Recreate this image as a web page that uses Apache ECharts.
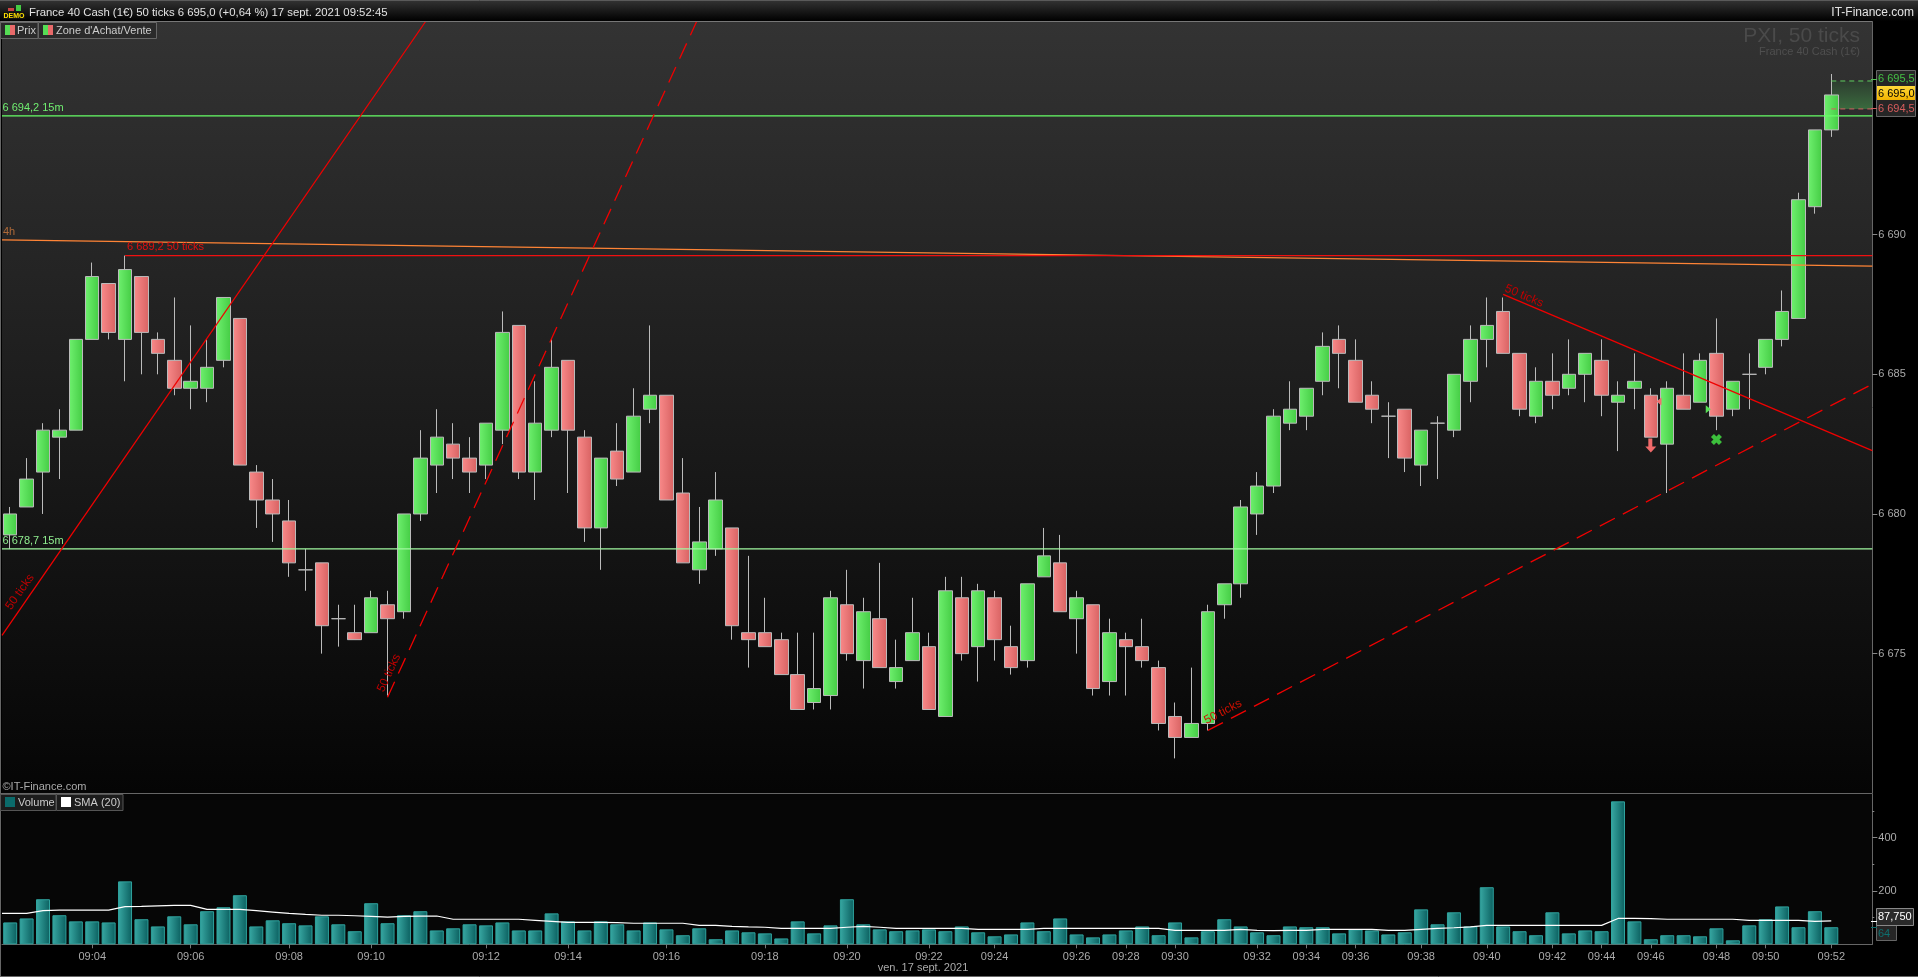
<!DOCTYPE html>
<html>
<head>
<meta charset="utf-8">
<style>html,body{margin:0;padding:0;background:#000;overflow:hidden}#c{width:1918px;height:977px}</style>
<script src="https://cdn.jsdelivr.net/npm/echarts@6/dist/echarts.min.js"></script>
</head>
<body>
<div id="c"></div>
<script>
const opens=[6679.25,6680.25,6681.5,6682.75,6683,6686.25,6688.25,6686.25,6688.5,6686.25,6685.5,6684.5,6684.5,6685.5,6687,6681.5,6680.5,6679.75,6678,6678.25,6676.25,6675.75,6675.75,6676.75,6676.5,6680,6681.75,6682.5,6682,6681.75,6683,6686.75,6681.5,6683,6685.5,6682.75,6679.5,6682.25,6681.5,6683.75,
6684.25,6680.75,6678,6678.75,6679.5,6675.75,6675.75,6675.5,6674.25,6673.25,6673.5,6676.75,6674.75,6676.25,6674,6674.75,6675.25,6672.75,6677,6675.25,6677,6675.25,6674.75,6677.75,6678.25,6676.25,6676.75,6674,6675.5,6675.25,6674.5,6672.75,6672,6672.5,6676.75,6677.5,6680,6681,6683.25,6683.5,6684.75,6686.25,6685.5,6684.25,6683.5,6683.75,6681.75,6683.25,6683,6684.75,6686.25,6687.25,6685.75,6683.5,6684.75,6684.5,6685,6685.5,6684,6684.5,6684.25,6682.5,6684.25,6684,6685.75,6683.75,6685,6685.25,6686.25,6687,6691,6693.75];
const closes=[6680,6681.25,6683,6683,6686.25,6688.5,6686.5,6688.75,6686.5,6685.75,6684.5,6684.75,6685.25,6687.75,6681.75,6680.5,6680,6678.25,6678,6676,6676.25,6675.5,6677,6676.25,6680,6682,6682.75,6682,6681.5,6683.25,6686.5,6681.5,6683.25,6685.25,6683,6679.5,6682,6681.25,6683.5,6684.25,
6680.5,6678.25,6679,6680.5,6676,6675.5,6675.25,6674.25,6673,6673.75,6677,6675,6676.5,6674.5,6674.5,6675.75,6673,6677.25,6675,6677.25,6675.5,6674.5,6677.5,6678.5,6676.5,6677,6673.75,6675.75,6675.25,6674.75,6672.5,6672,6672.5,6676.5,6677.5,6680.25,6681,6683.5,6683.75,6684.5,6686,6685.75,6684,6683.75,6683.5,6682,6683,6683.25,6685,6686.25,6686.75,6685.75,6683.75,6684.75,6684.25,6685,6685.75,6684.25,6684.25,6684.75,6682.75,6684.5,6683.75,6685.5,6683.5,6684.75,6685,6686.25,6687.25,6691.25,6693.75,6695];
const lows=[6678.75,6680.25,6680,6681.25,6683,6686.25,6686.25,6684.75,6685,6685,6684.25,6683.75,6684,6685.25,6681.75,6679.5,6679,6677.75,6677.25,6675,6675.25,6675.5,6675.75,6673.5,6676.25,6679.75,6680.75,6681.25,6680.75,6681.25,6682.5,6681.25,6680.5,6682.75,6680.75,6679,6678,6681,6681.5,6683.25,
6680.5,6678.25,6677.5,6678.5,6675.5,6674.5,6675.25,6674.25,6673,6673,6673,6674.75,6673.75,6674.5,6673.75,6674.75,6673,6672.75,6674.75,6674,6674.75,6674.25,6674.5,6677.75,6676.5,6675,6673.5,6673.5,6673.5,6674.5,6672.25,6671.25,6672,6672.25,6676.25,6677,6679.25,6680.75,6683,6683,6684.25,6684.5,6684,6683.25,6682,6681.5,6681,6681.25,6682.75,6684,6685.25,6685.75,6683.5,6683.25,6683.75,6684.25,6684,6683.5,6682.25,6683.75,6682.75,6680.75,6683.75,6684,6683,6683.5,6683.75,6685,6686,6687,6690.75,6693.5];
const highs=[6680.25,6682,6683.25,6683.75,6686.25,6689,6688.25,6689.25,6688.5,6686.5,6687.75,6686.75,6686.25,6687.75,6687,6681.75,6681.25,6680.5,6678.75,6678.25,6676.75,6676.75,6677.25,6677.25,6680,6683,6683.75,6683.25,6682.75,6683.25,6687.25,6686.75,6684.75,6686.25,6685.5,6683,6682,6683.25,6684.5,6686.75,
6684.25,6682,6680.25,6681.5,6679.5,6678.5,6677,6675.75,6675.75,6675.75,6677.25,6678,6677,6678.25,6675.5,6677,6675.75,6677.75,6677.75,6677.5,6677.25,6676,6677.5,6679.5,6679.25,6677.25,6676.75,6676.25,6675.75,6676.25,6674.75,6673.25,6674.5,6676.75,6677.5,6680.5,6681.5,6683.75,6684.75,6684.5,6686.5,6686.75,6686.25,6684.75,6684,6683.75,6683,6683.5,6685,6686.75,6687.75,6687.75,6685.75,6685.25,6685.75,6686.25,6685.75,6686.25,6684.75,6685.75,6684.5,6684.75,6685.75,6685.75,6687,6684.75,6685.75,6686.25,6688,6691.5,6693.75,6695.75];
const volumes=[82,97,169,109,86,86,82,236,94,67,105,75,124,139,184,67,90,79,71,105,75,49,154,79,109,124,52,60,75,71,82,52,52,116,86,52,86,75,52,82,
56,34,60,19,52,45,41,22,86,41,71,169,75,56,49,52,56,49,67,45,30,37,82,49,97,37,26,37,52,67,34,82,26,49,94,67,45,34,67,64,64,41,56,52,37,45,131,75,120,67,214,67,49,34,120,41,52,49,536,86,19,34,34,30,60,15,71,94,142,64,124,64];
const sma20=[116,116,126,128,128,128,128,141,142,144,146,146,131,131,131,126,121,116,112,109,109,107,105,102,105,106,106,94,94,94,94,94,90,86,82,82,82,81,79,79,
79,79,71,71,67,65,64,60,60,60,60,64,67,64,60,60,60,60,60,56,56,56,56,60,60,60,60,60,60,60,60,52,52,52,52,56,52,51,52,52,56,56,56,56,52,52,56,60,62,65,71,71,71,71,71,71,71,71,97,97,96,94,94,94,94,94,90,90,90,90,86,87.75];
const smaStart=116;
const tickCandle=[6,12,18,23,30,35,41,47,52,57,61,66,69,72,77,80,83,87,91,95,98,101,105,108,112];
const tickLabels=['09:04','09:06','09:08','09:10','09:12','09:14','09:16','09:18','09:20','09:22','09:24','09:26','09:28','09:30','09:32','09:34','09:36','09:38','09:40','09:42','09:44','09:46','09:48','09:50','09:52'];
const priceTicks=[6675,6680,6685,6690];
const volumeLabels=[200,400];
const level15mHigh=6694.25, level15mLow=6678.75, level50t=6689.25, ask=6695.5, bid=6694.5;
const line4h=[[0,6689.81],[114,6688.87]];
const trendA=[[0,6675.65],[25.82,6697.63]];
const trendB=[[23.5,6673.44],[42.34,6697.63]];
const trendC=[[73.5,6672.25],[114,6684.65]];
const trendD=[[91.5,6687.86],[114,6682.27]];
const sellArrow=[[100.5,6682.45]], buyCross=[[104.5,6682.67]], leftTri=[[101,6684.03]], rightTri=[[104,6683.75]];

const categories=new Array(114).fill('');
tickCandle.forEach((c,i)=>{categories[c-1]=tickLabels[i];});
const candles=opens.map((o,i)=>[o,closes[i],lows[i],highs[i]]);
const smaLine=[[0,smaStart]].concat(sma20.map((v,i)=>[i+0.5,v]));
const FONT='"Liberation Sans", Arial, sans-serif';
const grad=(a,b)=>({type:'linear',x:0,y:0,x2:1,y2:0,colorStops:[{offset:0,color:a},{offset:1,color:b}]});
const vgrad=(a,b)=>({type:'linear',x:0,y:0,x2:0,y2:1,colorStops:[{offset:0,color:a},{offset:1,color:b}]});
const fmtPrice=v=>String(v).replace(/^(\d)(\d{3})/,'$1 $2');
const tline=(name,data,color,dash,width)=>({name,type:'line',xAxisIndex:2,yAxisIndex:0,data,showSymbol:false,silent:true,z:6,clip:true,
  lineStyle:{color,width:width||1.3,type:dash||'solid',cap:'butt'}});
const marker=(data,symbol,size,color)=>({type:'scatter',xAxisIndex:2,yAxisIndex:0,data,symbol,symbolSize:size,silent:true,z:7,itemStyle:{color,opacity:1}});

const txt=(x,y,text,o)=>Object.assign({type:'text',x,y,silent:true,z:100,style:Object.assign({text,font:'11px '+FONT,fill:'#ccc',align:'left',verticalAlign:'middle'},o||{})});
const rect=(x,y,w,h,fill,stroke)=>({type:'rect',silent:true,z:99,shape:{x,y,width:w,height:h},style:{fill,stroke:stroke||null,lineWidth:1}});
const seg=(x1,y1,x2,y2,stroke)=>({type:'line',silent:true,z:99,shape:{x1,y1,x2,y2},style:{stroke,lineWidth:1}});
const rot=(x,y,text,deg,fill)=>({type:'text',x,y,rotation:deg*Math.PI/180,silent:true,z:50,style:{text,font:'12px '+FONT,fill,align:'center',verticalAlign:'middle'}});

const graphics=[
  rect(0,0,1918,21,vgrad('#343434','#000000')),
  seg(0,0.5,1918,0.5,'#5a5a5a'),
  seg(0,21.5,1872,21.5,'#777'),
  seg(0,793.5,1872,793.5,'#666'),
  seg(0.5,21,0.5,977,'#666'),
  seg(0,976.5,1918,976.5,'#666'),
  // logo
  rect(3,12,22,7,'#111'),
  rect(16,5,5,6,'#44cc44'),
  rect(8,8,6,3,'#cc4444'),
  txt(3.5,16,'DEMO',{font:'bold 7px '+FONT,fill:'#ffe000'}),
  txt(29,13,'France 40 Cash (1€) 50 ticks 6 695,0 (+0,64 %) 17 sept. 2021 09:52:45',{fill:'#e2e2e2',font:'11.35px '+FONT}),
  txt(1914,13,'IT-Finance.com',{align:'right',fill:'#e2e2e2',font:'12px '+FONT}),
  // legends
  rect(0.5,22.5,37.5,16,'#2a2a2a','#666'),
  rect(38.5,22.5,118,16,'#2a2a2a','#666'),
  rect(5,25,5,10,'#55dd55'), rect(10,25,5,10,'#e86a6a'),
  rect(43,25,5,10,'#55dd55'), rect(48,25,5,10,'#e86a6a'),
  txt(17,31,'Prix'), txt(56,31,"Zone d'Achat/Vente"),
  rect(0.5,794.5,55.5,16,'#1c1c1c','#555'),
  rect(56.5,794.5,66.5,16,'#1c1c1c','#555'),
  rect(5,797,10,10,'#0b6a6a'), rect(61,797,10,10,'#ffffff'),
  txt(18,803,'Volume'), txt(74,803,'SMA (20)'),
  // watermark
  txt(1860,36,'PXI, 50 ticks',{align:'right',font:'21px '+FONT,fill:'#4a4a4a'}),
  txt(1860,51.5,'France 40 Cash (1€)',{align:'right',font:'11px '+FONT,fill:'#4f4f4f'}),
  // level captions
  txt(2.5,108,'6 694,2 15m',{fill:'#70ee70'}),
  txt(2.5,541,'6 678,7 15m',{fill:'#90ee90'}),
  txt(3,232,'4h',{fill:'#b06a38'}),
  txt(127,247,'6 689,2 50 ticks',{fill:'#e01010'}),
  txt(2.5,787,'©IT-Finance.com',{fill:'#aaa'}),
  rot(20,592,'50 ticks',55,'#c00000'),
  rot(389,673,'50 ticks',65,'#c00000'),
  rot(1223,712,'50 ticks',27.6,'#d01000'),
  rot(1524,296,'50 ticks',-23,'#c00000'),
  // last price boxes
  rect(1876.5,70.5,39,46,'#262626','#666'),
  seg(1871,79.5,1877,79.5,'#55c055'),
  seg(1871,108.5,1877,108.5,'#d06060'),
  rect(1877,86,38,14,vgrad('#ffd83a','#f2b400')),
  txt(1878,79,'6 695,5',{fill:'#44c044'}),
  txt(1878,93.5,'6 695,0',{fill:'#000'}),
  txt(1878,108.5,'6 694,5',{fill:'#d85c5c'}),
  // volume boxes
  rect(1876.5,925.5,20,15,'#262626','#666'),
  rect(1876.5,908.5,37,17,'#2a2a2a','#888'),
  seg(1871,921.5,1877,921.5,'#fff'),
  seg(1871,927.5,1877,927.5,'#0b6a6a'),
  txt(1878,917,'87,750',{fill:'#fff'}),
  txt(1878,933.5,'64',{fill:'#0e6f6f'}),
  txt(923,968,'ven. 17 sept. 2021',{align:'center',fill:'#aaa'})
];

const chart=echarts.init(document.getElementById('c'),null,{renderer:'canvas'});
chart.setOption({
  animation:false,
  backgroundColor:'#000',
  graphic:{elements:graphics},
  grid:[
    {left:2,right:45.7,top:21.5,height:771.8,show:true,borderWidth:0,backgroundColor:vgrad('#333333','#050505')},
    {left:2,right:45.7,top:794,height:150.3,show:true,borderWidth:0,backgroundColor:'#060606'}
  ],
  xAxis:[
    {type:'category',gridIndex:0,data:categories,show:false,boundaryGap:true},
    {type:'category',gridIndex:1,data:categories,boundaryGap:true,
      axisLine:{show:true,lineStyle:{color:'#666'}},
      axisTick:{show:true,alignWithLabel:true,length:4,lineStyle:{color:'#777'},interval:(i,v)=>v!==''},
      axisLabel:{interval:0,hideOverlap:false,margin:7,color:'#aaa',fontFamily:FONT,fontSize:11},
      splitLine:{show:false}},
    {type:'value',gridIndex:0,min:0,max:114,show:false,splitLine:{show:false}},
    {type:'value',gridIndex:1,min:0,max:114,show:false,splitLine:{show:false}}
  ],
  yAxis:[
    {type:'value',gridIndex:0,position:'right',min:6670,max:6697.63,interval:5,scale:true,
      splitLine:{show:false},
      axisLine:{show:true,onZero:false,lineStyle:{color:'#666'}},
      axisTick:{show:true,length:5,customValues:priceTicks,lineStyle:{color:'#888'}},
      axisLabel:{customValues:priceTicks,margin:6,padding:[0,0,3,0],color:'#aaa',fontFamily:FONT,fontSize:11,formatter:fmtPrice}},
    {type:'value',gridIndex:1,position:'right',min:0,max:563.6,interval:200,
      splitLine:{show:false},minorSplitLine:{show:false},
      axisLine:{show:true,onZero:false,lineStyle:{color:'#666'}},
      axisTick:{show:true,length:5,customValues:volumeLabels,lineStyle:{color:'#888'}},
      minorTick:{show:true,splitNumber:2,length:2,lineStyle:{color:'#888'}},
      axisLabel:{customValues:volumeLabels,margin:6,padding:[3,0,0,0],color:'#aaa',fontFamily:FONT,fontSize:11}}
  ],
  series:[
    {type:'line',xAxisIndex:2,yAxisIndex:0,data:[],z:1,silent:true,
      markArea:{silent:true,itemStyle:{color:vgrad('#2d3d30','#3a6a3e'),opacity:1},
        data:[[{coord:[111.5,ask]},{coord:[114,bid]}]]}},
    {name:'Prix',type:'candlestick',xAxisIndex:0,yAxisIndex:0,data:candles,barWidth:14,z:3,silent:true,
      itemStyle:{color:grad('#6ff06f','#44cc44'),color0:grad('#f98a8a','#d86262'),borderColor:'#bbbbbb',borderColor0:'#bbbbbb',borderColorDoji:'#bbbbbb',borderWidth:1}},
    tline('15m haut',[[0,level15mHigh],[114,level15mHigh]],'#66ff66'),
    tline('15m bas',[[0,level15mLow],[114,level15mLow]],'#a0f8a0'),
    tline('4h',line4h,'#ff8436'),
    tline('50 ticks',[[7.5,level50t],[114,level50t]],'#f01010'),
    tline('A',trendA,'#f00000'),
    tline('B',trendB,'#f00000',[17,9]),
    tline('C',trendC,'#f00000',[17,9]),
    tline('D',trendD,'#f00000'),
    tline('ask',[[111.5,ask],[114,ask]],'#60d060',[5,4],1),
    tline('bid',[[111.5,bid],[114,bid]],'#d06060',[5,4],1),
    marker(sellArrow,'path://M3,0 L7,0 L7,8 L11,8 L5.5,14 L0,8 L3,8 Z',[11,14],'#f06a6a'),
    marker(buyCross,'path://M3,0 L5.5,2.5 L8,0 L11,3 L8.5,5.5 L11,8 L8,11 L5.5,8.5 L3,11 L0,8 L2.5,5.5 L0,3 Z',[11,11],'#3cc03c'),
    marker(leftTri,'path://M5,0 L5,8 L0,4 Z',[5,8],'#f07070'),
    marker(rightTri,'path://M0,0 L5,4 L0,8 Z',[5,8],'#55e055'),
    {name:'Volume',type:'bar',xAxisIndex:1,yAxisIndex:1,data:volumes,barWidth:14,silent:true,z:3,
      itemStyle:{color:grad('#38a8a3','#0b5f5f'),borderColor:'#2fa39e',borderWidth:1}},
    {name:'SMA (20)',type:'line',xAxisIndex:3,yAxisIndex:1,data:smaLine,showSymbol:false,silent:true,z:5,
      lineStyle:{color:'#ffffff',width:1.2}}
  ]
});
</script>
</body>
</html>
